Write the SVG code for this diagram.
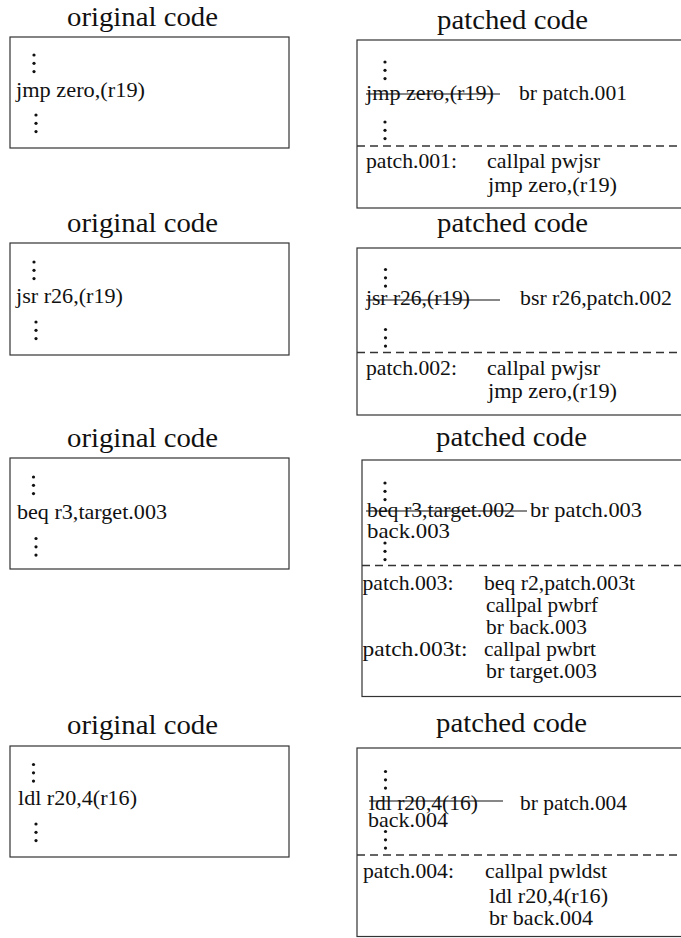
<svg xmlns="http://www.w3.org/2000/svg" xmlns:xlink="http://www.w3.org/1999/xlink" width="681" height="938" viewBox="0 0 681 938">
<style>
.t{font-family:"Liberation Serif","Times New Roman",serif;font-size:21px;fill:#111}
.h{font-size:27px}
.box{fill:#fff;stroke:#333;stroke-width:1.2}
.dash{stroke:#333;stroke-width:1.3;stroke-dasharray:8 5;fill:none}
.strike{stroke:#111;stroke-width:1.2}
</style>
<defs>
<g id="vd"><circle cx="0" cy="0" r="1.6" fill="#111"/><circle cx="0" cy="8.3" r="1.6" fill="#111"/><circle cx="0" cy="16.6" r="1.6" fill="#111"/></g>
</defs>
<rect width="681" height="938" fill="#fff"/>

<!-- Panel 1 -->
<g id="orig1">
<text class="t h" x="67" y="26" textLength="151" lengthAdjust="spacingAndGlyphs">original code</text>
<rect class="box" x="10" y="37" width="279" height="111"/>
<use xlink:href="#vd" x="34" y="55"/>
<text class="t" x="16" y="97" textLength="129" lengthAdjust="spacingAndGlyphs">jmp zero,(r19)</text>
<use xlink:href="#vd" x="36" y="115"/>
</g>
<g id="patch1">
<text class="t h" x="437" y="29" textLength="151" lengthAdjust="spacingAndGlyphs">patched code</text>
<rect class="box" x="357" y="40" width="340" height="168"/>
<use xlink:href="#vd" x="385" y="62"/>
<text class="t" x="366" y="100" textLength="128" lengthAdjust="spacingAndGlyphs">jmp zero,(r19)</text>
<line class="strike" x1="366" y1="94" x2="500" y2="94"/>
<text class="t" x="519" y="100" textLength="108" lengthAdjust="spacingAndGlyphs">br patch.001</text>
<use xlink:href="#vd" x="385" y="122"/>
<line class="dash" x1="357" y1="146" x2="690" y2="146"/>
<text class="t" x="366" y="168" textLength="91" lengthAdjust="spacingAndGlyphs">patch.001:</text>
<text class="t" x="487" y="168" textLength="113" lengthAdjust="spacingAndGlyphs">callpal pwjsr</text>
<text class="t" x="488" y="192" textLength="129" lengthAdjust="spacingAndGlyphs">jmp zero,(r19)</text>
</g>

<!-- Panel 2 -->
<g id="orig2">
<text class="t h" x="67" y="232" textLength="151" lengthAdjust="spacingAndGlyphs">original code</text>
<rect class="box" x="10" y="243" width="279" height="112"/>
<use xlink:href="#vd" x="34" y="262"/>
<text class="t" x="16" y="303" textLength="107" lengthAdjust="spacingAndGlyphs">jsr r26,(r19)</text>
<use xlink:href="#vd" x="36" y="322"/>
</g>
<g id="patch2">
<text class="t h" x="437" y="232" textLength="151" lengthAdjust="spacingAndGlyphs">patched code</text>
<rect class="box" x="357" y="248" width="340" height="167"/>
<use xlink:href="#vd" x="385.5" y="269.5"/>
<text class="t" x="366" y="305" textLength="104" lengthAdjust="spacingAndGlyphs">jsr r26,(r19)</text>
<line class="strike" x1="366" y1="300" x2="500" y2="300"/>
<text class="t" x="520" y="305" textLength="152" lengthAdjust="spacingAndGlyphs">bsr r26,patch.002</text>
<use xlink:href="#vd" x="385.5" y="329.5"/>
<line class="dash" x1="357" y1="352.5" x2="690" y2="352.5"/>
<text class="t" x="366" y="375" textLength="91" lengthAdjust="spacingAndGlyphs">patch.002:</text>
<text class="t" x="487" y="375" textLength="113" lengthAdjust="spacingAndGlyphs">callpal pwjsr</text>
<text class="t" x="488" y="398" textLength="129" lengthAdjust="spacingAndGlyphs">jmp zero,(r19)</text>
</g>

<!-- Panel 3 -->
<g id="orig3">
<text class="t h" x="67" y="447" textLength="151" lengthAdjust="spacingAndGlyphs">original code</text>
<rect class="box" x="10" y="458" width="279" height="111"/>
<use xlink:href="#vd" x="33.5" y="477"/>
<text class="t" x="17" y="519" textLength="150" lengthAdjust="spacingAndGlyphs">beq r3,target.003</text>
<use xlink:href="#vd" x="36" y="538.5"/>
</g>
<g id="patch3">
<text class="t h" x="436" y="446" textLength="151" lengthAdjust="spacingAndGlyphs">patched code</text>
<rect class="box" x="362" y="460" width="335" height="236.5"/>
<use xlink:href="#vd" x="385" y="483"/>
<text class="t" x="367" y="517" textLength="148" lengthAdjust="spacingAndGlyphs">beq r3,target.002</text>
<line class="strike" x1="366" y1="511" x2="527" y2="511"/>
<text class="t" x="530" y="517" textLength="112" lengthAdjust="spacingAndGlyphs">br patch.003</text>
<text class="t" x="367" y="538" textLength="83" lengthAdjust="spacingAndGlyphs">back.003</text>
<use xlink:href="#vd" x="385" y="543"/>
<line class="dash" x1="362" y1="565.5" x2="690" y2="565.5"/>
<text class="t" x="362.5" y="590" textLength="91" lengthAdjust="spacingAndGlyphs">patch.003:</text>
<text class="t" x="484" y="590" textLength="151" lengthAdjust="spacingAndGlyphs">beq r2,patch.003t</text>
<text class="t" x="486" y="612" textLength="112" lengthAdjust="spacingAndGlyphs">callpal pwbrf</text>
<text class="t" x="486" y="634" textLength="101" lengthAdjust="spacingAndGlyphs">br back.003</text>
<text class="t" x="362.5" y="656" textLength="105" lengthAdjust="spacingAndGlyphs">patch.003t:</text>
<text class="t" x="484" y="656" textLength="112" lengthAdjust="spacingAndGlyphs">callpal pwbrt</text>
<text class="t" x="486" y="678" textLength="111" lengthAdjust="spacingAndGlyphs">br target.003</text>
</g>

<!-- Panel 4 -->
<g id="orig4">
<text class="t h" x="67" y="734" textLength="151" lengthAdjust="spacingAndGlyphs">original code</text>
<rect class="box" x="10" y="746" width="279" height="111"/>
<use xlink:href="#vd" x="33.5" y="764.5"/>
<text class="t" x="18" y="805" textLength="119" lengthAdjust="spacingAndGlyphs">ldl r20,4(r16)</text>
<use xlink:href="#vd" x="36" y="824"/>
</g>
<g id="patch4">
<text class="t h" x="436" y="732" textLength="151" lengthAdjust="spacingAndGlyphs">patched code</text>
<rect class="box" x="357" y="748" width="340" height="188.5"/>
<use xlink:href="#vd" x="385.5" y="771.5"/>
<text class="t" x="369" y="810" textLength="109" lengthAdjust="spacingAndGlyphs">ldl r20,4(16)</text>
<line class="strike" x1="369" y1="801" x2="503" y2="801"/>
<text class="t" x="520" y="810" textLength="107" lengthAdjust="spacingAndGlyphs">br patch.004</text>
<text class="t" x="368" y="827" textLength="80" lengthAdjust="spacingAndGlyphs">back.004</text>
<use xlink:href="#vd" x="385.5" y="831.5"/>
<line class="dash" x1="357" y1="855" x2="690" y2="855"/>
<text class="t" x="363" y="878" textLength="91" lengthAdjust="spacingAndGlyphs">patch.004:</text>
<text class="t" x="485" y="878" textLength="122" lengthAdjust="spacingAndGlyphs">callpal pwldst</text>
<text class="t" x="489" y="902.5" textLength="119" lengthAdjust="spacingAndGlyphs">ldl r20,4(r16)</text>
<text class="t" x="489" y="925" textLength="104" lengthAdjust="spacingAndGlyphs">br back.004</text>
</g>

<g id="connectors"></g>
</svg>
